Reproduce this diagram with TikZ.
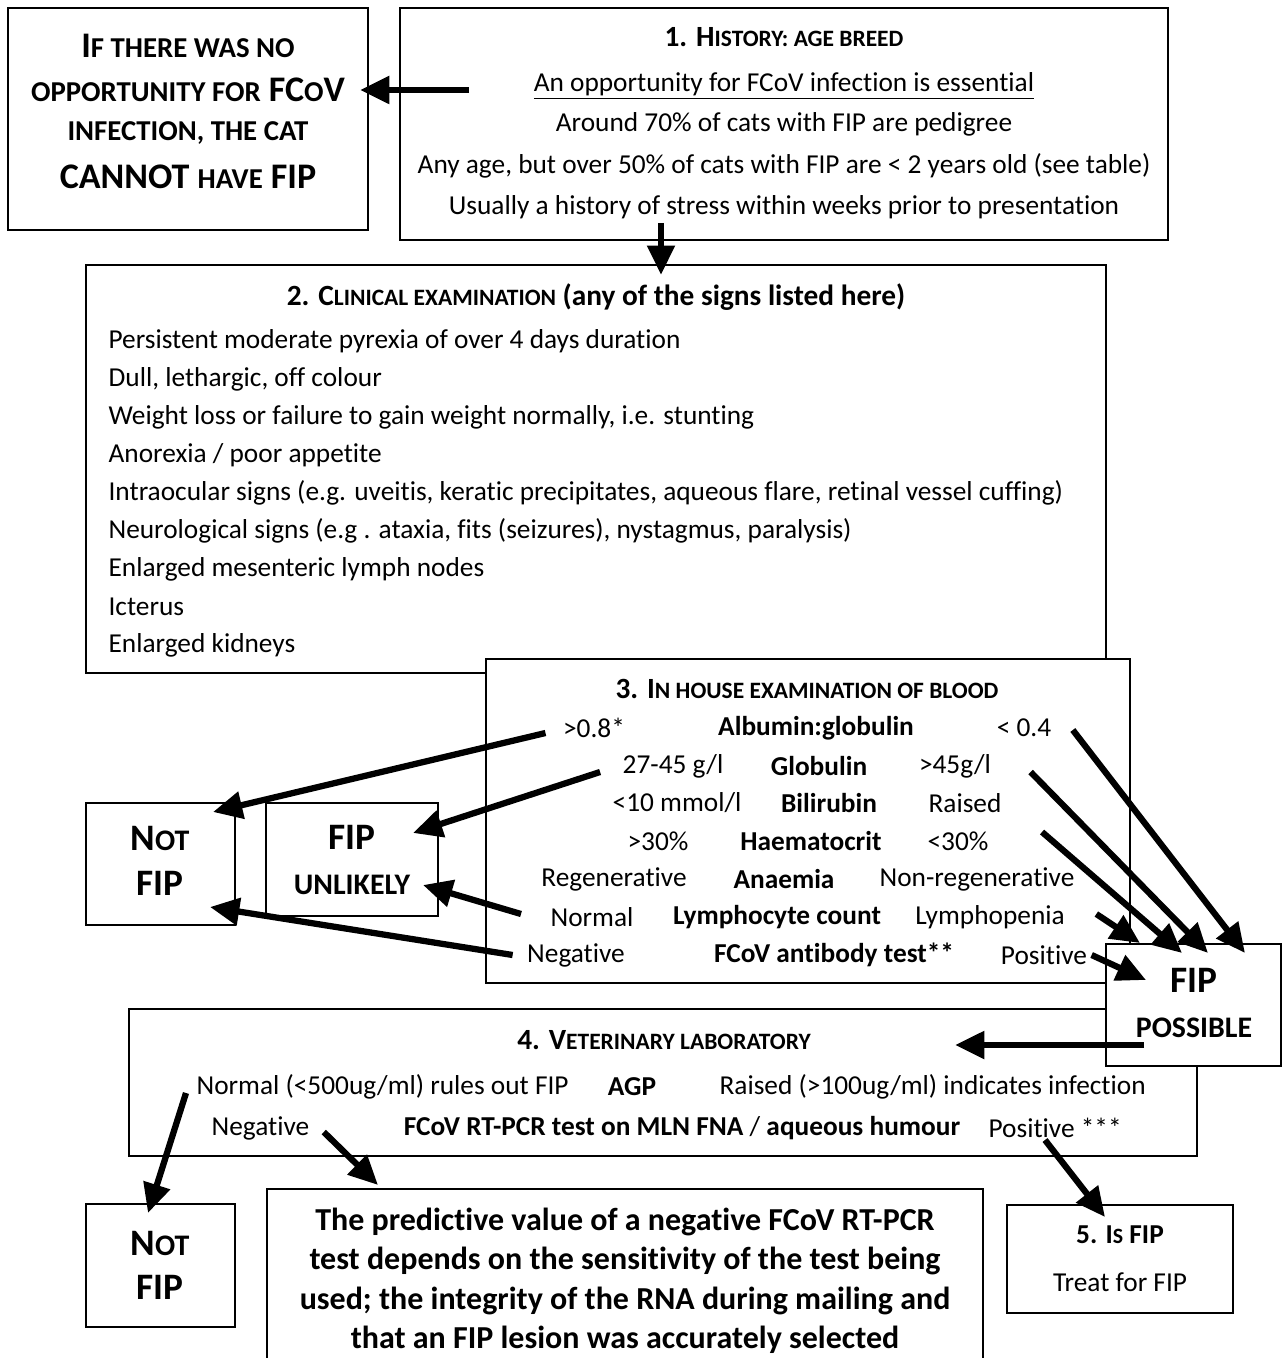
\documentclass[tikz,border=0pt]{standalone}
\usepackage{fontspec}
\setmainfont{Carlito}[Ligatures=NoCommon]
\usetikzlibrary{arrows.meta,fit}

\makeatletter
\newcommand{\smc}[1]{{\fontsize{\strip@pt\dimexpr0.8\dimexpr\f@size pt\relax\relax}{\f@baselineskip}\selectfont\MakeUppercase{#1}}}
\makeatother

\tikzset{
  box/.style={draw, line width=1.3pt, inner sep=0pt, fill=white},
  txt/.style={inner sep=1pt, font=\fontsize{20.5}{24}\selectfont},
  btxt/.style={txt, font=\fontsize{20.5}{24}\selectfont\bfseries},
  title/.style={txt, font=\fontsize{22}{26}\selectfont\bfseries},
  item/.style={txt, anchor=west},
  big/.style={inner sep=1pt, font=\fontsize{27}{32}\selectfont\bfseries},
  verdict/.style={inner sep=1pt, font=\fontsize{28}{32}\selectfont\bfseries},
  note/.style={inner sep=1pt, font=\fontsize{24}{28}\selectfont\bfseries},
  fatarrow/.style={line width=4.7pt, -{Triangle[length=22pt,width=20pt]}}
}

\begin{document}
\begin{tikzpicture}[x=0.75pt,y=0.75pt,yscale=-1,xscale=1]
\useasboundingbox (0,0) rectangle (1285,1358);

% boxes
\node[box, fit={(8,8) (368,230)}] (noopp) {};
\node[box, fit={(400,8) (1168,240)}] (hist) {};
\node[box, fit={(86,265) (1106,673)}] (clin) {};
\node[box, fit={(486,659) (1130,983)}] (blood) {};
\node[box, fit={(86,803) (235,925)}] (notfipA) {};
\node[box, fit={(266,803) (438,916)}] (unlikely) {};
\node[box, fit={(129,1009) (1197,1156)}] (vetlab) {};
\node[box, fit={(1106,944) (1281,1066)}] (possible) {};
\node[box, fit={(86,1204) (235,1327)}] (notfipB) {};
\node[box, fit={(267,1189) (983,1375)}] (pcrnote) {};
\node[box, fit={(1007,1205) (1233,1313)}] (isfip) {};

% no opportunity
\node[big] (na1) at (188,46) {I\smc{f there was no}};
\node[big] (na2) at (188,90) {\smc{opportunity for} FC\smc{o}V};
\node[big] (na3) at (188,133) {\smc{infection, the cat}};
\node[big] (na4) at (188,177) {CANNOT \smc{have} FIP};

% 1. history
\node[title] (h0) at (784,37) {1. H\smc{istory: age breed}};
\node[txt] (opp) at (784,86) {\underline{An opportunity for FCoV infection is essential}};
\node[txt] (h2) at (784,124) {Around 70\% of cats with FIP are pedigree};
\node[txt] (h3) at (784,166) {Any age, but over 50\% of cats with FIP are < 2 years old (see table)};
\node[txt] (h4) at (784,207) {Usually a history of stress within weeks prior to presentation};

% 2. clinical examination
\node[title] (c0) at (596,297) {2. C\smc{linical examination} (any of the signs listed here)};
\foreach \t [count=\i] in {Persistent moderate pyrexia of over 4 days duration,
  {Dull, lethargic, off colour},
  {Weight loss or failure to gain weight normally, i.e. stunting},
  Anorexia / poor appetite,
  {Intraocular signs (e.g. uveitis, keratic precipitates, aqueous flare, retinal vessel cuffing)},
  {Neurological signs (e.g . ataxia, fits (seizures), nystagmus, paralysis)},
  Enlarged mesenteric lymph nodes,
  Icterus,
  Enlarged kidneys}
  \node[item] (sign\i) at (107,303+38*\i) {\t};

% 3. in house blood
\node[title] (b0) at (807,689) {3. I\smc{n house examination of blood}};
\node[txt] (agL) at (594,728) {>0.8*};
\node[btxt] (ag) at (816,728) {Albumin:globulin};
\node[txt] (agR) at (1024,728) {< 0.4};
\node[txt] (globL) at (673,766) {27-45 g/l};
\node[btxt] (glob) at (819,766) {Globulin};
\node[txt] (globR) at (955,766) {>45g/l};
\node[txt] (biliL) at (677,803) {<10 mmol/l};
\node[btxt] (bili) at (829,803) {Bilirubin};
\node[txt] (biliR) at (965,803) {Raised};
\node[txt] (hctL) at (658,841) {>30\%};
\node[btxt] (hct) at (811,841) {Haematocrit};
\node[txt] (hctR) at (958,841) {<30\%};
\node[txt] (anaeL) at (614,879) {Regenerative};
\node[btxt] (anae) at (784,879) {Anaemia};
\node[txt] (anaeR) at (977,879) {Non-regenerative};
\node[txt] (lymL) at (592,917) {Normal};
\node[btxt] (lym) at (777,917) {Lymphocyte count};
\node[txt] (lymR) at (990,917) {Lymphopenia};
\node[txt] (abL) at (576,955) {Negative};
\node[btxt] (ab) at (834,955) {FCoV antibody test**};
\node[txt] (abR) at (1044,955) {Positive};

% verdicts
\node[verdict] (nfa1) at (160,838) {N\smc{ot}};
\node[verdict] (nfa2) at (160,883) {FIP};
\node[verdict] (ul1) at (352,837) {FIP};
\node[verdict] (ul2) at (352,885) {\smc{unlikely}};
\node[verdict] (ps1) at (1194,980) {FIP};
\node[verdict] (ps2) at (1194,1028) {\smc{possible}};

% 4. veterinary laboratory
\node[title] (v0) at (664,1040) {4. V\smc{eterinary laboratory}};
\node[item] (agpL) at (195,1087) {Normal (<500ug/ml) rules out FIP};
\node[btxt] (agp) at (632,1087) {AGP};
\node[item] (agpR) at (718,1087) {Raised (>100ug/ml) indicates infection};
\node[item] (pcrL) at (210,1128) {Negative};
\node[txt] (pcr) at (682,1128) {\textbf{FCoV RT-PCR test on MLN FNA} / \textbf{aqueous humour}};
\node[item] (pcrR) at (987,1128) {Positive ***};

% outcomes
\node[verdict] (nfb1) at (160,1243) {N\smc{ot}};
\node[verdict] (nfb2) at (160,1287) {FIP};
\node[note] (n1) at (625,1222) {The predictive value of a negative FCoV RT-PCR};
\node[note] (n2) at (625,1261) {test depends on the sensitivity of the test being};
\node[note] (n3) at (625,1301) {used; the integrity of the RNA during mailing and};
\node[note] (n4) at (625,1340) {that an FIP lesion was accurately selected};
\node[btxt] (i1) at (1120,1235) {5. I\smc{s} FIP};
\node[txt] (i2) at (1120,1282) {Treat for FIP};

% arrow tips
\coordinate (tNoopp) at (360,90);
\coordinate (tNfA1) at (213,812);
\coordinate (tNfA2) at (210,907);
\coordinate (tUl1) at (413,833);
\coordinate (tUl2) at (423,885);
\coordinate (tPs1) at (1245,953);
\coordinate (tPs2) at (1208,953);
\coordinate (tPs3) at (1182,953);
\coordinate (tPs4) at (1140,943);
\coordinate (tPs5) at (1146,980);
\coordinate (tVet) at (955,1045);
\coordinate (tNfB) at (148,1213);
\coordinate (tNote) at (378,1185);
\coordinate (tIs) at (1105,1217);

% arrows
\draw[fatarrow] ([shift={(-63,4)}]opp.west) -- (tNoopp);
\draw[fatarrow] ([shift={(-123,-18)}]hist.south) -- ([shift={(-123,34)}]hist.south);
\draw[fatarrow] ([shift={(-16,5)}]agL.west) -- (tNfA1);
\draw[fatarrow] ([shift={(-21,6)}]globL.west) -- (tUl1);
\draw[fatarrow] ([shift={(-28,-3)}]lymL.west) -- (tUl2);
\draw[fatarrow] ([shift={(-13,0)}]abL.west) -- (tNfA2);
\draw[fatarrow] ([shift={(20,2)}]agR.east) -- (tPs1);
\draw[fatarrow] ([shift={(38,6)}]globR.east) -- (tPs2);
\draw[fatarrow] ([shift={(52,-9)}]hctR.east) -- (tPs3);
\draw[fatarrow] ([shift={(30,-3)}]lymR.east) -- (tPs4);
\draw[fatarrow] ([shift={(3,0)}]abR.east) -- (tPs5);
\draw[fatarrow] ([shift={(39,40)}]possible.west) -- (tVet);
\draw[fatarrow] ([shift={(-9,6)}]agpL.west) -- (tNfB);
\draw[fatarrow] ([shift={(13,4)}]pcrL.east) -- (tNote);
\draw[fatarrow] ([shift={(58,12)}]pcrR.west) -- (tIs);

\end{tikzpicture}
\end{document}
